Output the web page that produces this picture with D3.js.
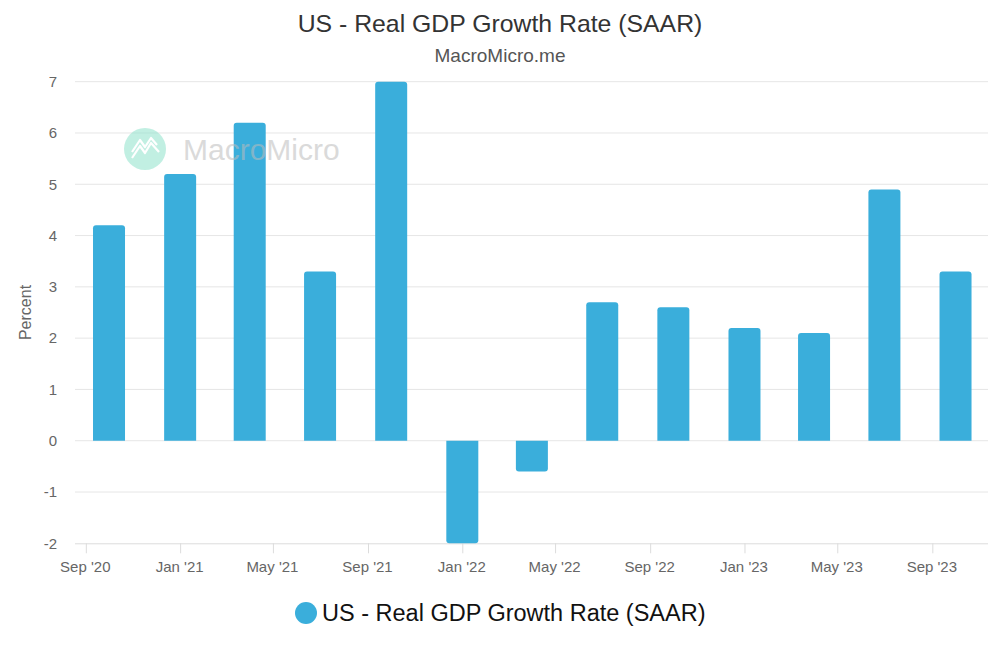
<!DOCTYPE html>
<html>
<head>
<meta charset="utf-8">
<script src="https://cdn.jsdelivr.net/npm/d3@7"></script>
<style>
  html, body { margin: 0; padding: 0; background: #fff; }
  svg { display: block; font-family: "Liberation Sans", Arial, Helvetica, sans-serif; }
</style>
</head>
<body>
<svg id="chart" width="1000" height="651"></svg>
<script>
// ---- data ----
const quarterDates = ["2020-10-01","2021-01-01","2021-04-01","2021-07-01","2021-10-01","2022-01-01","2022-04-01","2022-07-01","2022-10-01","2023-01-01","2023-04-01","2023-07-01","2023-10-01"];
const gdpValues = [4.2, 5.2, 6.2, 3.3, 7.0, -2.0, -0.6, 2.7, 2.6, 2.2, 2.1, 4.9, 3.3];
const xTickDates = ["2020-09-01","2021-01-01","2021-05-01","2021-09-01","2022-01-01","2022-05-01","2022-09-01","2023-01-01","2023-05-01","2023-09-01"];
const yTickValues = [-2, -1, 0, 1, 2, 3, 4, 5, 6, 7];
const seriesName = "US - Real GDP Growth Rate (SAAR)";
const titleText = "US - Real GDP Growth Rate (SAAR)";
const subtitleText = "MacroMicro.me";
const yAxisTitle = "Percent";

// ---- layout ----
const W = 1000, H = 651;
const plot = { left: 75, right: 988, top: 81.7, bottom: 543.3 };
const barColor = "#3aaedb";
const parse = d3.utcParse("%Y-%m-%d");

const svg = d3.select("#chart");

const x = d3.scaleUtc()
  .domain([parse("2020-08-18"), parse("2023-11-12")])
  .range([plot.left, plot.right]);
const y = d3.scaleLinear()
  .domain([-2, 7])
  .range([plot.bottom, plot.top]);

// gridlines
svg.append("g").selectAll("line")
  .data(yTickValues.filter(v => v !== -2))
  .join("line")
  .attr("x1", plot.left).attr("x2", plot.right)
  .attr("y1", d => y(d)).attr("y2", d => y(d))
  .attr("stroke", "#e6e6e6").attr("stroke-width", 1);

// y axis labels
const yAxis = d3.axisLeft(y).tickValues(yTickValues).tickSize(0).tickPadding(0).tickFormat(d => String(d));
const gy = svg.append("g").attr("transform", `translate(${plot.left - 18},0)`).call(yAxis);
gy.select(".domain").remove();
gy.selectAll("text").attr("fill", "#666").style("font-size", "15px")
  .style("font-family", "'Liberation Sans', Arial, sans-serif");

// x axis
const xAxis = d3.axisBottom(x)
  .tickValues(xTickDates.map(parse))
  .tickSize(10).tickPadding(8)
  .tickFormat(d3.utcFormat("%b '%y"));
const gx = svg.append("g").attr("transform", `translate(0,${plot.bottom})`).call(xAxis);
gx.select(".domain").attr("stroke", "#dcdcdc").attr("d", `M${plot.left},0.5H${plot.right}`);
gx.selectAll(".tick line").attr("stroke", "#dcdcdc");
gx.selectAll("text").attr("fill", "#666").style("font-size", "15px")
  .style("font-family", "'Liberation Sans', Arial, sans-serif")
  .attr("dx", "-1");

// bars
const barW = 32, r = 3;
function barPath(cx, v) {
  const x0 = cx - barW / 2, x1 = cx + barW / 2;
  const y0 = y(0), yv = y(v);
  if (v >= 0) {
    return `M${x0},${y0}V${yv + r}Q${x0},${yv} ${x0 + r},${yv}H${x1 - r}Q${x1},${yv} ${x1},${yv + r}V${y0}Z`;
  } else {
    return `M${x0},${y0}V${yv - r}Q${x0},${yv} ${x0 + r},${yv}H${x1 - r}Q${x1},${yv} ${x1},${yv - r}V${y0}Z`;
  }
}
const barData = quarterDates.map((d, i) => ({ date: parse(d), value: gdpValues[i] }));
svg.append("g").selectAll("path")
  .data(barData)
  .join("path")
  .attr("d", d => barPath(x(d.date), d.value))
  .attr("fill", barColor);

// watermark
const wm = svg.append("g").attr("opacity", 0.55);
wm.append("circle").attr("cx", 145).attr("cy", 149).attr("r", 21).attr("fill", "#8fe3cc");
wm.append("path")
  .attr("d", "M132,158 L140,146 L145,153 L151,143 L159,152 M132,152 L140,140 L145,147 L151,138 L157,145")
  .attr("fill", "none").attr("stroke", "#fff").attr("stroke-width", 2.2).attr("stroke-linejoin", "round");
wm.append("text").attr("x", 183).attr("y", 160)
  .attr("fill", "#bcbcbc").style("font-size", "30px")
  .style("font-family", "'Liberation Sans', Arial, sans-serif")
  .text("MacroMicro");

// title & subtitle
svg.append("text").attr("x", W / 2).attr("y", 32).attr("text-anchor", "middle")
  .attr("fill", "#333").style("font-size", "24.8px").text(titleText);
svg.append("text").attr("x", W / 2).attr("y", 62).attr("text-anchor", "middle")
  .attr("fill", "#555").style("font-size", "19px").text(subtitleText);

// y axis title
svg.append("text")
  .attr("transform", `translate(31,${(y(-2) + y(7)) / 2 + 0}) rotate(-90)`)
  .attr("text-anchor", "middle").attr("fill", "#666").style("font-size", "16px")
  .text(yAxisTitle);

// legend
const lg = svg.append("g");
lg.append("circle").attr("cx", 306).attr("cy", 613).attr("r", 11).attr("fill", barColor);
lg.append("text").attr("x", 322).attr("y", 621).attr("fill", "#111")
  .style("font-size", "23.5px").text(seriesName);
</script>
</body>
</html>
